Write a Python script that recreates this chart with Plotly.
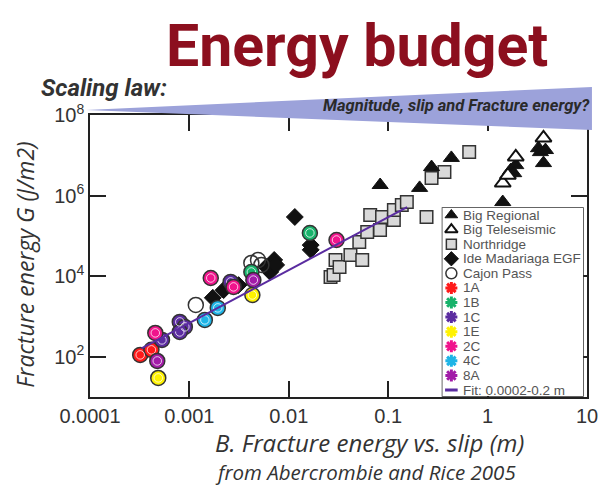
import plotly.graph_objects as go

# ---------------- data ----------------
big_regional_x = [0.083, 0.207, 0.273, 0.432, 1.42, 1.71, 1.92, 1.83, 3.25, 3.4, 3.82, 3.65]
big_regional_y = [1.83e6, 1.55e6, 5.1e6, 8.6e6, 6.9e5, 4.3e6, 5.7e6, 3.6e6, 1.5e7, 1.2e7, 1.35e7, 6.4e6]

big_tele_x = [1.42, 1.6, 1.92, 3.65]
big_tele_y = [2.05e6, 3.2e6, 9.1e6, 2.7e7]

northridge_x = [0.0263, 0.0282, 0.0295, 0.0324, 0.0417, 0.0548, 0.0512, 0.0615, 0.0659, 0.0828,
                0.0867, 0.114, 0.114, 0.137, 0.154, 0.243, 0.273, 0.368, 0.653]
northridge_y = [9.5e3, 1.07e4, 2.52e4, 1.69e4, 3.36e4, 2.52e4, 7.06e4, 1.25e5, 3.3e5, 1.4e5,
                2.94e5, 2.48e5, 4.4e5, 5.85e5, 6.9e5, 2.94e5, 2.73e6, 3.85e6, 1.21e7]

ide_x = [0.00172, 0.00221, 0.00312, 0.0065, 0.00593, 0.00713, 0.00746, 0.0115, 0.0166, 0.0166]
ide_y = [2.9e3, 4.5e3, 6.0e3, 1.27e4, 1.69e4, 2.52e4, 1.9e4, 2.94e5, 5.9e4, 4.5e4]

cajon_x = [0.00116, 0.0042, 0.0049, 0.0053]
cajon_y = [1.93e3, 2.13e4, 2.5e4, 1.9e4]

s1A_x = [3.2e-4, 4.15e-4]
s1A_y = [111, 148]
s1B_x = [0.0042, 0.0163]
s1B_y = [1.27e4, 1.18e5]
s1C_x = [5.3e-4, 8.0e-4, 9.0e-4, 8.0e-4, 0.0026]
s1C_y = [261, 731, 550, 412, 7.2e3]
s1E_x = [4.86e-4, 0.0043]
s1E_y = [29.8, 3.4e3]
s2C_x = [4.54e-4, 0.00164, 0.00278, 0.0302]
s2C_y = [390, 9.0e3, 5.4e3, 7.9e4]
s4C_x = [0.00143, 0.00193]
s4C_y = [819, 1.63e3]
s8A_x = [4.75e-4, 0.0044]
s8A_y = [78.7, 8.0e3]

fit_x = [3.3e-4, 0.155]
fit_y = [160, 5.2e5]

x_tickvals = [1e-4, 1e-3, 1e-2, 1e-1, 1, 10]
x_ticktext = ["0.0001", "0.001", "0.01", "0.1", "1", "10"]
y_tickvals = [1e2, 1e4, 1e6, 1e8]
y_ticktext = ["10<sup>2</sup>", "10<sup>4</sup>", "10<sup>6</sup>", "10<sup>8</sup>"]

legend_labels = ["Big Regional", "Big Teleseismic", "Northridge", "Ide Madariaga EGF", "Cajon Pass",
                 "1A", "1B", "1C", "1E", "2C", "4C", "8A", "Fit: 0.0002-0.2 m"]

# ---------------- styles ----------------
EDGE = "#333333"
SANS = "Liberation Sans, Arial, sans-serif"
HUM = "Open Sans, Noto Sans, sans-serif"
BOLDF = "Roboto, Lato, sans-serif"

colored = [
    ("1A", s1A_x, s1A_y, "#ff1a1a"),
    ("1B", s1B_x, s1B_y, "#17b26a"),
    ("1C", s1C_x, s1C_y, "#5b2ca0"),
    ("1E", s1E_x, s1E_y, "#fff200"),
    ("2C", s2C_x, s2C_y, "#f0148c"),
    ("4C", s4C_x, s4C_y, "#1eb4e6"),
    ("8A", s8A_x, s8A_y, "#a21ca8"),
]
FIT_COLOR = "#5a2ca0"

fig = go.Figure()

fig.add_trace(go.Scatter(x=northridge_x, y=northridge_y, mode="markers", showlegend=False,
                         marker=dict(symbol="square", size=12.5, color="#d9d9d9",
                                     line=dict(color=EDGE, width=1.5))))
fig.add_trace(go.Scatter(x=big_regional_x, y=big_regional_y, mode="markers", showlegend=False,
                         marker=dict(symbol="triangle-up", size=14, color="#111111",
                                     line=dict(color="#111111", width=1))))
fig.add_trace(go.Scatter(x=big_tele_x, y=big_tele_y, mode="markers", showlegend=False,
                         marker=dict(symbol="triangle-up", size=14, color="white",
                                     line=dict(color="#111111", width=2))))
fig.add_trace(go.Scatter(x=ide_x, y=ide_y, mode="markers", showlegend=False,
                         marker=dict(symbol="diamond", size=13, color="#111111",
                                     line=dict(color="#111111", width=1))))
fig.add_trace(go.Scatter(x=cajon_x, y=cajon_y, mode="markers", showlegend=False,
                         marker=dict(symbol="circle-open", size=15, color=EDGE,
                                     line=dict(color=EDGE, width=1.5))))
for name, xs, ys, col in colored:
    fig.add_trace(go.Scatter(x=xs, y=ys, mode="markers", showlegend=False,
                             marker=dict(symbol="circle", size=15, color=col,
                                         line=dict(color=EDGE, width=1.5))))
    fig.add_trace(go.Scatter(x=xs, y=ys, mode="markers", showlegend=False, hoverinfo="skip",
                             marker=dict(symbol="circle-open", size=8.5, color="white", opacity=0.75,
                                         line=dict(color="white", width=1))))
fig.add_trace(go.Scatter(x=fit_x, y=fit_y, mode="lines", showlegend=False,
                         line=dict(color=FIT_COLOR, width=2)))

# ---------------- hand-made legend on its own axes ----------------
leg_styles = [
    dict(symbol="triangle-up", size=11, color="#111111", line=dict(color="#111111", width=1)),
    dict(symbol="triangle-up", size=11, color="white", line=dict(color="#111111", width=2)),
    dict(symbol="square", size=10, color="#d9d9d9", line=dict(color=EDGE, width=1.5)),
    dict(symbol="diamond", size=11, color="#111111", line=dict(color="#111111", width=1)),
    dict(symbol="circle-open", size=11, color=EDGE, line=dict(color=EDGE, width=1.5)),
] + [dict(symbol="asterisk-open", size=10, color=c, line=dict(color=c, width=3)) for _, _, _, c in colored] + [
    dict(symbol="line-ew-open", size=9, color=FIT_COLOR, line=dict(color=FIT_COLOR, width=3)),
]
for i, (lab, st) in enumerate(zip(legend_labels, leg_styles)):
    fig.add_trace(go.Scatter(x=[9], y=[i], xaxis="x2", yaxis="y2", mode="markers",
                             showlegend=False, hoverinfo="skip", marker=st))
    fig.add_annotation(x=19, y=i, xref="x2", yref="y2", text=lab, showarrow=False,
                       xanchor="left", yanchor="middle",
                       font=dict(family=SANS, size=13.5, color="#555555"))

# page has an 8px body margin, so the figure is drawn 8px right/down of the window corner
OFF = 8
W, H = 610 - OFF, 488 - OFF
L, T = 90 - OFF, 115 - OFF
R = W - (592 - OFF)
B = H - (397 - OFF)
pw, ph = W - L - R, H - T - B


def px(x):  # window pixel -> paper fraction
    return (x - OFF - L) / pw


def py(y):
    return (H - B - (y - OFF)) / ph


axis_common = dict(showgrid=False, zeroline=False, showline=True, linecolor="#222222", linewidth=1.5,
                   mirror="ticks", ticks="inside", ticklen=16, tickwidth=1.5, tickcolor="#222222",
                   tickfont=dict(family=SANS, size=20, color="#333333"))

fig.update_layout(
    width=W, height=H, margin=dict(l=L, r=R, t=T, b=B),
    paper_bgcolor="white", plot_bgcolor="white",
    xaxis=dict(type="log", range=[-4, 1], tickmode="array", tickvals=x_tickvals, ticktext=x_ticktext,
               **axis_common),
    yaxis=dict(type="log", range=[1, 8], tickmode="array", tickvals=y_tickvals, ticktext=y_ticktext,
               **axis_common),
    xaxis2=dict(domain=[px(446), px(588)], range=[0, 142], visible=False, anchor="y2"),
    yaxis2=dict(domain=[py(396), py(208)], range=[12.41, -0.48], visible=False, anchor="x2"),
    shapes=[
        dict(type="rect", xref="paper", yref="paper", x0=px(446), x1=px(588), y0=py(396), y1=py(208),
             fillcolor="white", line=dict(color="#333333", width=1.5), layer="below"),
        dict(type="path", xref="paper", yref="paper", layer="above",
             path=f"M {px(86)},{py(110)} L {px(597)},{py(87)} L {px(597)},{py(130)} Z",
             fillcolor="#9ca2da", line=dict(width=0)),
    ],
)

# titles / annotations
fig.add_annotation(x=px(360), y=py(46), xref="paper", yref="paper", text="<b>Energy budget</b>",
                   showarrow=False, xanchor="center", yanchor="middle",
                   font=dict(family=BOLDF, size=59, color="#8c0f1e"))
fig.add_annotation(x=px(38), y=py(88), xref="paper", yref="paper", text="<b><i>Scaling law:</i></b>",
                   showarrow=False, xanchor="left", yanchor="middle",
                   font=dict(family=BOLDF, size=24, color="#333333"))
fig.add_annotation(x=px(597), y=py(105), xref="paper", yref="paper",
                   text="<b><i>Magnitude, slip and Fracture energy?</i></b>",
                   showarrow=False, xanchor="right", yanchor="middle",
                   font=dict(family=BOLDF, size=16.5, color="#2a2a2a"))
fig.add_annotation(x=px(24), y=py(265), xref="paper", yref="paper", text="<i>Fracture energy G (J/m2)</i>",
                   showarrow=False, textangle=-90, xanchor="center", yanchor="middle",
                   font=dict(family=HUM, size=23, color="#333333"))
fig.add_annotation(x=px(372), y=py(442), xref="paper", yref="paper", text="<i>B. Fracture energy vs. slip (m)</i>",
                   showarrow=False, xanchor="center", yanchor="middle",
                   font=dict(family=HUM, size=24, color="#333333"))
fig.add_annotation(x=px(368), y=py(472), xref="paper", yref="paper", text="<i>from Abercrombie and Rice 2005</i>",
                   showarrow=False, xanchor="center", yanchor="middle",
                   font=dict(family=HUM, size=20.5, color="#333333"))

fig.write_html("out.html")
